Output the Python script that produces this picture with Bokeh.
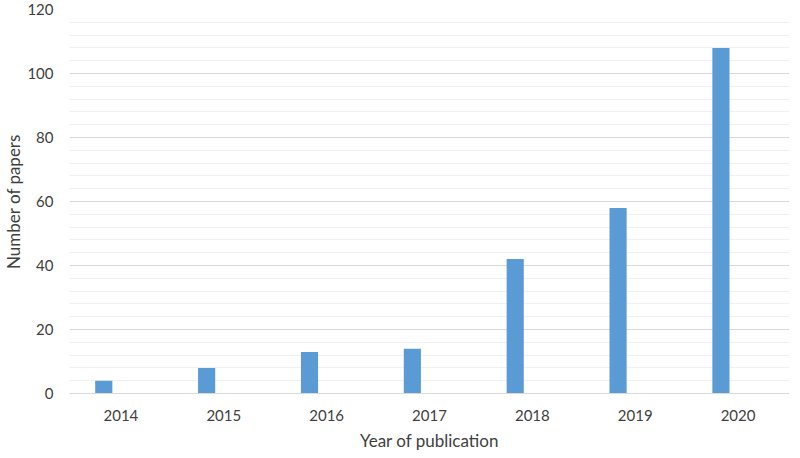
from bokeh.plotting import figure
from bokeh.models import FixedTicker, Range1d, FactorRange
from bokeh.transform import dodge
from bokeh.embed import file_html
from bokeh.resources import INLINE

years = ["2014", "2015", "2016", "2017", "2018", "2019", "2020"]
papers = [4, 8, 13, 14, 42, 58, 108]
y_ticks = [0, 20, 40, 60, 80, 100, 120]
y_minor = [v for v in range(0, 121, 4) if v % 20 != 0]

FONT = "Lato"
TXT = "#404040"

p = figure(width=789, height=453, x_range=FactorRange(*years), y_range=Range1d(0, 120),
           output_backend="svg", toolbar_location=None,
           min_border_left=65, min_border_right=0, min_border_top=9, min_border_bottom=56)
p.outline_line_color = None

p.vbar(x=dodge("x", -0.1667, range=p.x_range), top="y", width=0.1667,
       source=dict(x=years, y=papers), color="#5B9BD5", line_color=None)

p.yaxis.ticker = FixedTicker(ticks=y_ticks, minor_ticks=y_minor)
p.yaxis.axis_line_color = None
p.yaxis.major_tick_line_color = None
p.yaxis.minor_tick_line_color = None
p.yaxis.major_label_standoff = 10
p.yaxis.axis_label = "Number of papers"
p.yaxis.axis_label_standoff = 0

p.xaxis.axis_line_color = "#d9d9d9"
p.xaxis.major_tick_line_color = None
p.xaxis.minor_tick_line_color = None
p.xaxis.major_label_standoff = 10
p.xaxis.axis_label = "Year of publication"
p.xaxis.axis_label_standoff = 6

for ax in (p.xaxis, p.yaxis):
    ax.major_label_text_font = FONT
    ax.major_label_text_font_size = "15px"
    ax.major_label_text_color = TXT
    ax.axis_label_text_font = FONT
    ax.axis_label_text_font_size = "17px"
    ax.axis_label_text_font_style = "normal"
    ax.axis_label_text_color = TXT

p.xgrid.grid_line_color = None
p.ygrid.grid_line_color = "#d9d9d9"
p.ygrid.grid_line_width = 1
p.ygrid.minor_grid_line_color = "#f0f0f0"
p.ygrid.minor_grid_line_width = 1

open("out.html", "w").write(file_html(p, INLINE))
